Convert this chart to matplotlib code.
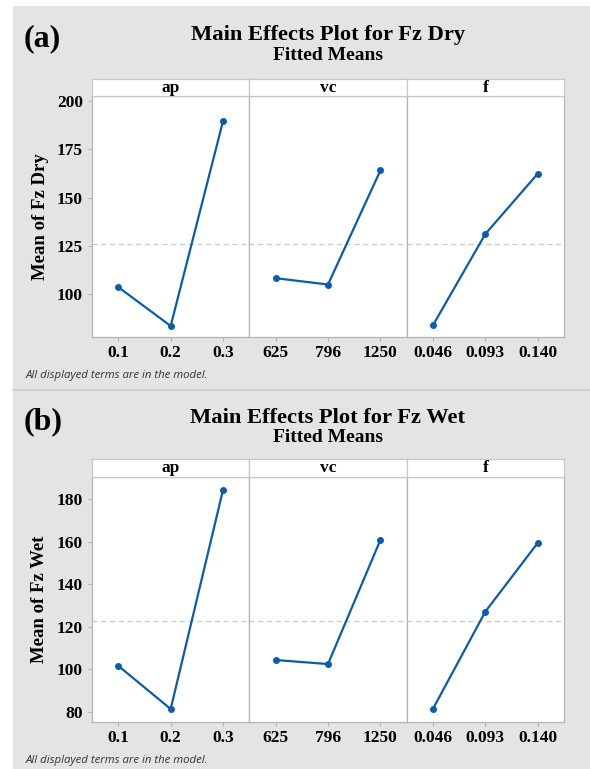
import matplotlib.pyplot as plt
from matplotlib.patches import Rectangle
from matplotlib.lines import Line2D

# factor levels (shown as category labels)
factors = ['ap', 'vc', 'f']
ap_levels = ['0.1', '0.2', '0.3']
vc_levels = ['625', '796', '1250']
f_levels = ['0.046', '0.093', '0.140']
levels = [ap_levels, vc_levels, f_levels]

# fitted means, Fz dry
dry_ap = [103.8, 83.7, 189.7]
dry_vc = [108.4, 105.1, 164.1]
dry_f = [84.0, 131.2, 162.4]
dry_mean = 125.8

# fitted means, Fz wet
wet_ap = [101.7, 81.4, 184.4]
wet_vc = [104.4, 102.5, 160.8]
wet_f = [81.4, 127.1, 159.4]
wet_mean = 122.6

W, H = 590, 769
BG = '#e4e4e4'
LINE = '#0b5cad'
SPINE = '#b4b4b4'
SERIF = 'Liberation Serif'


def fx(px):
    return px / W


def fy(py):
    return 1 - py / H


fig = plt.figure(figsize=(W / 100, H / 100), dpi=100)
fig.patch.set_facecolor('white')
fig.patches.append(Rectangle((fx(13), 0), 1 - fx(13), fy(6), transform=fig.transFigure,
                             facecolor=BG, edgecolor='none', zorder=-10))
fig.lines.append(Line2D([fx(13), 1], [fy(390), fy(390)], transform=fig.transFigure,
                        color='#cccccc', lw=1.2))


def draw_block(top, ax_top, ax_bot, title_y, note_y, series, mean, ylim, yticks,
               ylabel, title, letter):
    # pixel rows: top = strip top, ax_top/ax_bot = plot area
    x0, x1 = 92, 564
    pw = (x1 - x0) / 3
    for i in range(3):
        left = x0 + i * pw
        ax = fig.add_axes([fx(left), fy(ax_bot), pw / W, (ax_bot - ax_top) / H])
        ax.set_facecolor('white')
        ax.plot(range(3), series[i], color=LINE, lw=1.6, marker='o', ms=4)
        ax.axhline(mean, color='#c8c8c8', lw=0.9, ls=(0, (4, 3)), zorder=0)
        ax.set_xlim(-0.5, 2.5)
        ax.set_ylim(*ylim)
        ax.set_xticks(range(3))
        ax.set_xticklabels(levels[i], fontfamily=SERIF, fontweight='bold', fontsize=12.5)
        ax.set_yticks(yticks)
        ax.set_yticklabels([str(t) for t in yticks], fontfamily=SERIF,
                           fontweight='bold', fontsize=12.5)
        ax.tick_params(axis='both', colors=SPINE, labelcolor='black', length=3, width=0.8)
        ax.tick_params(axis='x', pad=2.5)
        for s in ax.spines.values():
            s.set_color(SPINE)
            s.set_linewidth(0.9)
        if i > 0:
            ax.tick_params(axis='y', left=False, labelleft=False)
        # strip header
        sax = fig.add_axes([fx(left), fy(ax_top), pw / W, (ax_top - top) / H])
        sax.set_xticks([])
        sax.set_yticks([])
        for s in sax.spines.values():
            s.set_color('#c8c8c8')
            s.set_linewidth(0.9)
        sax.text(0.5, 0.5, factors[i], ha='center', va='center', fontfamily=SERIF,
                 fontweight='bold', fontsize=12.5)
        if i == 0:
            ax.set_ylabel(ylabel, fontfamily=SERIF, fontweight='bold', fontsize=13.5, labelpad=6)
    fig.text(fx(328), fy(title_y), title, ha='center', va='center', fontfamily=SERIF,
             fontweight='bold', fontsize=16.2)
    fig.text(fx(328), fy(title_y + 20), 'Fitted Means', ha='center', va='center',
             fontfamily=SERIF, fontweight='bold', fontsize=14)
    fig.text(fx(24), fy(title_y + 4), letter, ha='left', va='center', fontfamily=SERIF,
             fontweight='bold', fontsize=23)
    fig.text(fx(26), fy(note_y), 'All displayed terms are in the model.', ha='left',
             va='center', fontfamily='Open Sans', style='italic', fontsize=8.2,
             color='#333333')


draw_block(79, 96, 337, 35, 375, [dry_ap, dry_vc, dry_f], dry_mean, (78, 202.5),
           [100, 125, 150, 175, 200], 'Mean of Fz Dry', 'Main Effects Plot for Fz Dry', '(a)')
draw_block(459, 477, 722, 418, 761, [wet_ap, wet_vc, wet_f], wet_mean, (75.3, 190.3),
           [80, 100, 120, 140, 160, 180], 'Mean of Fz Wet', 'Main Effects Plot for Fz Wet', '(b)')

fig.savefig('out.png', dpi=100)
